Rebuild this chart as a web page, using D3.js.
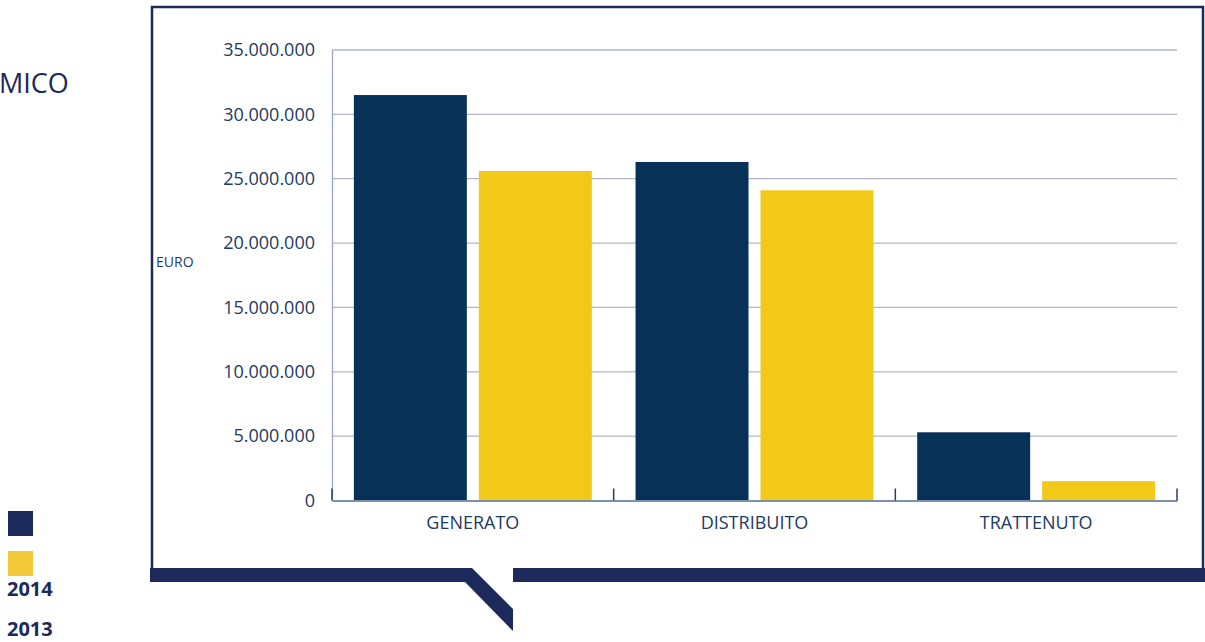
<!DOCTYPE html>
<html>
<head>
<meta charset="utf-8">
<script src="https://cdn.jsdelivr.net/npm/d3@7"></script>
<style>
  body { margin: 0; background: #fff; }
  svg { display: block; font-family: "Open Sans", sans-serif; }
</style>
</head>
<body>
<div id="chart"></div>
<script>
// Data
const categories = ["GENERATO", "DISTRIBUITO", "TRATTENUTO"];
const years = ["2014", "2013"];
const values2014 = [31500000, 26300000, 5300000];
const values2013 = [25600000, 24100000, 1500000];
const yTicks = [0, 5000000, 10000000, 15000000, 20000000, 25000000, 30000000, 35000000];

const width = 1205, height = 642;
const navy = "#1b2a5a";
const barColors = {"2014": "#073156", "2013": "#f2c918"};
const legendColors = {"2014": "#1b2a5a", "2013": "#f3ca3a"};

const svg = d3.select("#chart")
    .append("svg")
    .attr("width", width)
    .attr("height", height);

// Callout frame
svg.append("path")
    .attr("d", "M152,568 V7 H1203 V568")
    .attr("fill", "none")
    .attr("stroke", navy)
    .attr("stroke-width", 2.5);

svg.append("polygon")
    .attr("points", "150,568 472,568 513,609 513,631 465,582 150,582")
    .attr("fill", navy);

svg.append("rect")
    .attr("x", 513).attr("y", 568)
    .attr("width", 692).attr("height", 14)
    .attr("fill", navy);

// Title fragment cut off on the left
svg.append("text")
    .attr("x", -1).attr("y", 93)
    .attr("font-size", 27)
    .attr("fill", navy)
    .text("MICO");

// Scales
const plot = {left: 332, right: 1177, top: 50, bottom: 500.5};

const x0 = d3.scaleBand()
    .domain(categories)
    .range([plot.left, plot.right])
    .padding(0);

const x1 = d3.scaleBand()
    .domain(years)
    .range([0, x0.bandwidth()])
    .paddingInner(0.096)
    .paddingOuter(0.175);

const y = d3.scaleLinear()
    .domain([0, 35000000])
    .range([plot.bottom, plot.top]);

const fmt = d3.formatLocale({decimal: ",", thousands: ".", grouping: [3], currency: ["", "€"]}).format(",d");

// Gridlines
svg.append("g")
    .selectAll("line")
    .data(yTicks.filter(d => d > 0))
    .join("line")
    .attr("x1", plot.left)
    .attr("x2", plot.right)
    .attr("y1", d => y(d))
    .attr("y2", d => y(d))
    .attr("stroke", "#b3b6c6")
    .attr("stroke-width", 1.3);

// Y axis
const yAxis = svg.append("g")
    .attr("transform", "translate(" + plot.left + ",0)")
    .call(d3.axisLeft(y).tickValues(yTicks).tickFormat(fmt).tickSize(0).tickPadding(17));
yAxis.select(".domain").attr("stroke", "#9aa6bb").attr("stroke-width", 1.3);
yAxis.selectAll("text")
    .attr("font-size", 18)
    .attr("fill", "#1d3a5f")
    .attr("font-family", "Open Sans");

// Bars
const groups = svg.append("g")
    .selectAll("g")
    .data(categories)
    .join("g")
    .attr("transform", d => "translate(" + x0(d) + ",0)");

groups.selectAll("rect")
    .data((d, i) => [
        {year: "2014", value: values2014[i]},
        {year: "2013", value: values2013[i]}
    ])
    .join("rect")
    .attr("x", d => x1(d.year))
    .attr("y", d => y(d.value))
    .attr("width", x1.bandwidth())
    .attr("height", d => y(0) - y(d.value))
    .attr("fill", d => barColors[d.year]);

// X axis
const xAxis = svg.append("g")
    .attr("transform", "translate(0," + plot.bottom + ")")
    .call(d3.axisBottom(x0).tickSize(0).tickPadding(16));
xAxis.select(".domain").attr("stroke", "#7f90aa").attr("stroke-width", 2);
xAxis.selectAll("text")
    .attr("font-size", 18)
    .attr("fill", "#1d3a5f")
    .attr("font-family", "Open Sans");

// Category boundary ticks
const bounds = categories.map(c => x0(c)).concat([x0(categories[categories.length - 1]) + x0.bandwidth()]);
svg.append("g")
    .selectAll("line")
    .data(bounds)
    .join("line")
    .attr("x1", d => d).attr("x2", d => d)
    .attr("y1", plot.bottom - 12).attr("y2", plot.bottom)
    .attr("stroke", "#24405f")
    .attr("stroke-width", 1.5);

// Axis unit label
svg.append("text")
    .attr("x", 156).attr("y", 267)
    .attr("font-size", 14)
    .attr("fill", "#1d3a5f")
    .text("EURO");

// Legend
const legend = svg.append("g");
legend.selectAll("rect")
    .data(years)
    .join("rect")
    .attr("x", 8)
    .attr("y", (d, i) => 511 + i * 40)
    .attr("width", 25)
    .attr("height", 25)
    .attr("fill", d => legendColors[d]);

legend.selectAll("text")
    .data(years)
    .join("text")
    .attr("x", 7)
    .attr("y", (d, i) => 596 + i * 40)
    .attr("font-size", 20)
    .attr("font-weight", "bold")
    .attr("fill", navy)
    .text(d => d);
</script>
</body>
</html>
